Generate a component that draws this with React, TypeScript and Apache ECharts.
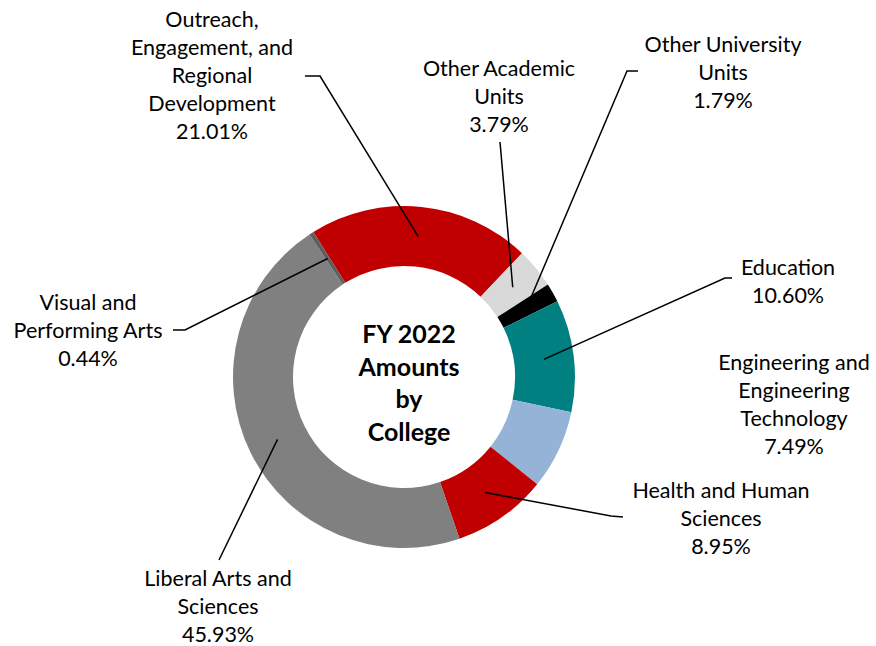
import React, { useEffect, useRef } from "react";
import * as echarts from "echarts";

// ---- data ----
const categories = [
  "Outreach, Engagement, and Regional Development",
  "Other Academic Units",
  "Other University Units",
  "Education",
  "Engineering and Engineering Technology",
  "Health and Human Sciences",
  "Liberal Arts and Sciences",
  "Visual and Performing Arts",
];
const labelNames = [
  "Outreach,\nEngagement, and\nRegional\nDevelopment",
  "Other Academic\nUnits",
  "Other University\nUnits",
  "Education",
  "Engineering and\nEngineering\nTechnology",
  "Health and Human\nSciences",
  "Liberal Arts and\nSciences",
  "Visual and\nPerforming Arts",
];
const shares = [21.01, 3.79, 1.79, 10.6, 7.49, 8.95, 45.93, 0.44];
const centerTitle = "FY 2022\nAmounts\nby\nCollege";

// ---- styles / layout ----
const colors = ["#C00000", "#D9D9D9", "#000000", "#008080", "#95B3D7", "#C00000", "#808080", "#5F5F5F"];
const CX = 404;
const CY = 377;
const R_IN = 111;
const R_OUT = 171;
const START = 122;
const FONT = "Lato";
// label block centres
const labelPos: number[][] = [
  [212, 75],
  [499, 96],
  [723, 72],
  [788, 281],
  [794, 404],
  [721, 518],
  [218, 606],
  [88, 330],
];
// leader line points after the slice anchor (null = no line)
const leaders: (number[][] | null)[] = [
  [[320, 76], [305, 76]],
  [[500, 142]],
  [[627, 71], [638, 71]],
  [[725, 278], [732, 278]],
  null,
  [[611, 516], [623, 517]],
  [[219, 560]],
  [[185, 330], [173, 330]],
];

export default function App() {
  const ref = useRef<HTMLDivElement>(null);
  useEffect(() => {
    if (!ref.current) return;
    const chart = echarts.init(ref.current, undefined, { renderer: "svg" });
    const total = shares.reduce((a, b) => a + b, 0);
    const mids: number[] = [];
    let cum = 0;
    shares.forEach((v) => {
      mids.push(((START - ((cum + v / 2) / total) * 360) * Math.PI) / 180);
      cum += v;
    });
    const rMid = (R_IN + R_OUT) / 2;
    const base = {
      type: "pie",
      center: [CX, CY],
      radius: [R_IN, R_OUT],
      startAngle: START,
      clockwise: true,
      avoidLabelOverlap: false,
      silent: true,
    };
    chart.setOption({
      animation: false,
      title: {
        text: centerTitle,
        left: CX,
        top: CY,
        textAlign: "center",
        textVerticalAlign: "middle",
        textStyle: {
          fontFamily: FONT,
          fontWeight: "bold",
          fontSize: 25,
          lineHeight: 32.5,
          color: "#000",
        },
      },
      series: [
        {
          ...base,
          z: 2,
          data: shares.map((v, i) => ({
            name: categories[i],
            value: v,
            itemStyle: { color: colors[i] },
          })),
          label: { show: false },
          labelLine: { show: false },
        },
        {
          ...base,
          z: 5,
          data: shares.map((v, i) => ({
            name: categories[i],
            value: v,
            itemStyle: { color: "rgba(0,0,0,0)" },
            labelLine: { show: leaders[i] !== null },
          })),
          label: {
            show: true,
            position: "outside",
            formatter: (p: any) =>
              labelNames[p.dataIndex] + "\n" + shares[p.dataIndex].toFixed(2) + "%",
            fontFamily: FONT,
            fontSize: 21.5,
            lineHeight: 28,
            color: "#000",
            align: "center",
          },
          labelLine: {
            show: true,
            lineStyle: { color: "#000", width: 1.5 },
          },
          labelLayout: (params: any) => {
            const i = params.dataIndex;
            const ax = CX + rMid * Math.cos(mids[i]);
            const ay = CY - rMid * Math.sin(mids[i]);
            const res: any = {
              x: labelPos[i][0],
              y: labelPos[i][1],
              align: "center",
              verticalAlign: "middle",
            };
            if (leaders[i]) res.labelLinePoints = [[ax, ay], ...(leaders[i] as number[][])];
            return res;
          },
        },
      ],
    });
    return () => chart.dispose();
  }, []);
  return (
    <div
      ref={ref}
      style={{ position: "fixed", left: 0, top: 0, width: 876, height: 646, background: "#fff" }}
    />
  );
}
